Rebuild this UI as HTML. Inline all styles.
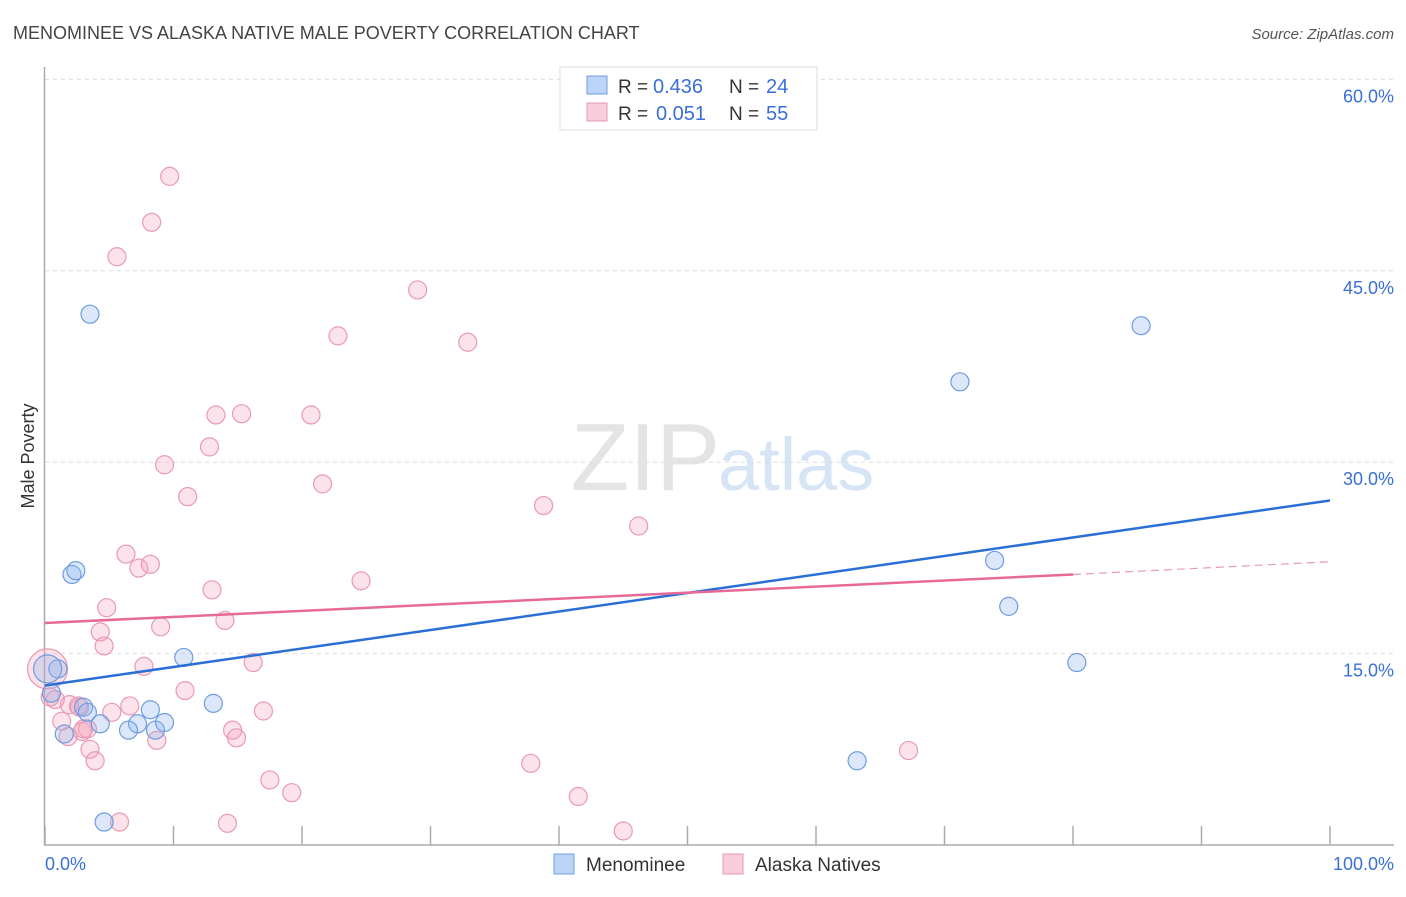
<!DOCTYPE html>
<html><head><meta charset="utf-8"><style>
body{margin:0;background:#fff;font-family:"Liberation Sans",sans-serif;}
svg text{font-family:"Liberation Sans",sans-serif;}
</style></head><body>
<svg id="chart" width="1406" height="892">
<text x="13" y="39" font-size="18" fill="#444">MENOMINEE VS ALASKA NATIVE MALE POVERTY CORRELATION CHART</text>
<text x="1394" y="39" font-size="15" fill="#555" font-style="italic" text-anchor="end">Source: ZipAtlas.com</text>
<text x="720" y="490" font-size="96" fill="#e4e4e4" text-anchor="end" font-family="Liberation Serif">ZIP</text>
<text x="718" y="490" font-size="74" fill="#d6e4f5">atlas</text>
<g id="grid"></g>
<g id="axes"></g>
<g id="pts"></g>
<g id="lines"></g>
<text transform="translate(34,456) rotate(-90)" font-size="18" fill="#333" text-anchor="middle">Male Poverty</text>
<text x="45" y="870" font-size="18" fill="#3a6fd8">0.0%</text>
<text x="1394" y="870" font-size="18" fill="#3a6fd8" text-anchor="end">100.0%</text>
<g>
<rect x="560" y="67" width="257" height="63" fill="#fff" stroke="#ddd"/>
<rect x="587" y="76" width="20" height="18" fill="#bcd4f5" stroke="#6e9de0"/>
<rect x="587" y="103" width="20" height="18" fill="#f9ccd9" stroke="#e79ab4"/>
<text x="618" y="93" font-size="19" fill="#333">R =</text>
<text x="653" y="93" font-size="20" fill="#3a6fd8">0.436</text>
<text x="729" y="93" font-size="19" fill="#333">N =</text>
<text x="766" y="93" font-size="20" fill="#3a6fd8">24</text>
<text x="618" y="120" font-size="19" fill="#333">R =</text>
<text x="656" y="120" font-size="20" fill="#3a6fd8">0.051</text>
<text x="729" y="120" font-size="19" fill="#333">N =</text>
<text x="766" y="120" font-size="20" fill="#3a6fd8">55</text>
</g>
<g>
<rect x="554" y="854" width="20" height="20" fill="#bcd4f5" stroke="#6e9de0"/>
<text x="586" y="871" font-size="19" fill="#333">Menominee</text>
<rect x="723" y="854" width="20" height="20" fill="#f9ccd9" stroke="#e79ab4"/>
<text x="755" y="871" font-size="19" fill="#333">Alaska Natives</text>
</g>
</svg>
<script>
const yTicks=[15,30,45,60];
const yTickLabels=["15.0%","30.0%","45.0%","60.0%"];
const xTicks=[0,10,20,30,40,50,60,70,80,90,100];
const menomineeX=[3.5,2.1,2.4,1.0,0.5,3.0,3.3,4.3,1.5,4.6,7.2,6.5,8.2,8.6,9.3,10.8,13.1,71.2,85.3,73.9,75.0,80.3,63.2,0.2];
const menomineeY=[41.6,21.2,21.5,13.8,11.9,10.8,10.4,9.5,8.7,1.8,9.5,9.0,10.6,9.0,9.6,14.7,11.1,36.3,40.7,22.3,18.7,14.3,6.6,13.8];
const alaskaX=[9.7,8.3,5.6,29.0,22.8,32.9,13.3,15.3,20.7,12.8,9.3,11.1,21.6,38.8,46.2,6.3,8.2,7.3,24.6,13.0,4.8,9.0,14.0,4.3,4.6,7.7,16.2,10.9,6.6,5.2,1.9,2.7,0.8,1.3,3.3,2.9,1.8,17.0,14.6,14.9,8.7,3.5,3.9,67.2,37.8,17.5,19.2,41.5,5.8,14.2,45.0,0.2,2.6,0.4,3.0];
const alaskaY=[52.4,48.8,46.1,43.5,39.9,39.4,33.7,33.8,33.7,31.2,29.8,27.3,28.3,26.6,25.0,22.8,22.0,21.7,20.7,20.0,18.6,17.1,17.6,16.7,15.6,14.0,14.3,12.1,10.9,10.4,11.0,10.8,11.4,9.7,9.1,8.9,8.5,10.5,9.0,8.4,8.2,7.5,6.6,7.4,6.4,5.1,4.1,3.8,1.8,1.7,1.1,13.8,10.9,11.6,9.1];
const blueTrend=[[0,12.5],[100,27.0]];
const pinkTrend=[[0,17.4],[80,21.2],[100,22.2]];
const NS="http://www.w3.org/2000/svg";
const X=v=>45+v*12.85, Y=v=>845-v*12.76;
function mk(tag,attrs,parent){const e=document.createElementNS(NS,tag);for(const k in attrs)e.setAttribute(k,attrs[k]);document.getElementById(parent).appendChild(e);return e;}
yTicks.forEach((t,i)=>{
 const l=mk('line',{x1:45,x2:1394,y1:Y(t),y2:Y(t),stroke:'#ddd','stroke-dasharray':'4,4'},'grid');
 
 
 const tx=mk('text',{x:1394,y:Y(t)+23,'font-size':18,fill:'#3a6fd8','text-anchor':'end'},'grid');
 tx.textContent=yTickLabels[i];
 
 
});
const ax=mk('line',{x1:44.5,x2:44.5,y1:67,y2:845,stroke:'#aaa','stroke-width':1.5},'axes');


const bx=mk('line',{x1:44,x2:1394,y1:845,y2:845,stroke:'#aaa','stroke-width':1.5},'axes');


xTicks.forEach(t=>{
 const l=mk('line',{x1:X(t),x2:X(t),y1:826,y2:845,stroke:'#aaa','stroke-width':1.5},'axes');
 
 
});
alaskaX.forEach((v,i)=>{
 const r=i==51?20:9;
 const c=mk('circle',{cx:X(v),cy:Y(alaskaY[i]),r:r,fill:'rgba(245,160,185,0.3)',stroke:'#e99ab3','stroke-width':1.2},'pts');
 
 
});
menomineeX.forEach((v,i)=>{
 const r=i==23?14:9;
 const c=mk('circle',{cx:X(v),cy:Y(menomineeY[i]),r:r,fill:'rgba(140,180,240,0.3)',stroke:'#6e9de0','stroke-width':1.2},'pts');
 
 
});
const bl=mk('line',{x1:X(blueTrend[0][0]),y1:Y(blueTrend[0][1]),x2:X(blueTrend[1][0]),y2:Y(blueTrend[1][1]),stroke:'#2a6fd6','stroke-width':2.5},'lines');


const pl=mk('line',{x1:X(pinkTrend[0][0]),y1:Y(pinkTrend[0][1]),x2:X(pinkTrend[1][0]),y2:Y(pinkTrend[1][1]),stroke:'#e66a95','stroke-width':2.5},'lines');


const pd=mk('line',{x1:X(pinkTrend[1][0]),y1:Y(pinkTrend[1][1]),x2:X(pinkTrend[2][0]),y2:Y(pinkTrend[2][1]),stroke:'#e99ab3','stroke-width':1.2,'stroke-dasharray':'8,5'},'lines');


</script>
</body></html>
